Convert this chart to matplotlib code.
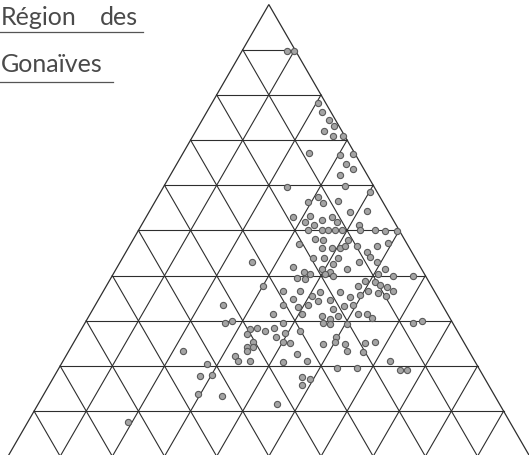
import matplotlib
matplotlib.use("Agg")
import matplotlib.pyplot as plt
import numpy as np

gridColor = "#2e2e2e"
dotFace = "#a4a4a4"
dotEdge = "#5a5a5a"
textColor = "#4a4a4a"

# sample compositions in percent: top corner share and right corner share
# (left corner share is the remainder to 100)
comp_top = [
    89.8, 89.8, 78.3, 76.3, 74.5, 73.0, 72.1, 70.8, 70.8, 67.2,
    66.6, 67.0, 64.8, 63.5, 62.2, 59.9, 59.7, 58.6, 57.5,
    56.2, 56.0, 56.4, 54.0, 54.2, 52.9, 53.1, 51.8, 52.4, 52.9,
    51.8, 51.3, 50.2, 50.2, 50.2, 50.2, 50.2, 51.3, 50.2, 50.0,
    49.8, 49.8, 48.0, 47.8, 46.9, 47.8, 46.0, 46.0, 46.0, 46.5,
    46.5, 45.3, 46.5, 47.3,
    44.0, 44.0, 43.8, 43.1, 44.2, 42.5, 41.8, 40.9, 40.3, 41.4,
    40.7, 41.4, 39.4, 39.2, 39.8, 40.3, 38.7, 38.5, 37.6, 42.9,
    36.5, 34.9, 36.5, 35.4, 36.3, 34.5, 36.3, 35.2, 35.8, 36.5,
    33.6, 33.0, 33.4, 34.3, 32.7, 33.2, 33.6, 37.6, 31.4, 31.6,
    31.0, 30.3, 31.0, 31.6, 31.4, 30.7, 29.6, 29.6, 29.2, 29.2,
    28.5, 27.7, 28.5, 26.5, 27.2, 25.4, 25.0, 25.2, 27.7, 26.5,
    25.2, 24.8, 25.0, 23.2, 23.0, 24.8,
    43.1, 41.4, 40.3, 40.0, 40.0, 38.0, 37.4, 36.5, 36.1, 35.4,
    29.6, 29.9, 25.4, 21.2, 19.5, 19.2, 19.2,
    33.6, 29.6, 29.9, 28.1, 27.0, 24.3, 24.3, 23.2, 22.1, 21.0,
    21.0, 23.2, 20.4, 17.7, 18.1, 13.9, 13.3, 7.5, 22.6, 21.0,
    20.8, 17.5, 17.0, 15.7, 19.5, 11.5,
]
comp_right = [
    8.5, 9.9, 20.2, 22.0, 24.2, 26.0, 24.6, 26.9, 28.8, 24.1,
    30.3, 32.6, 32.3, 34.4, 32.5, 34.6, 23.7, 40.0, 30.6,
    29.4, 32.3, 35.0, 38.5, 41.7, 28.2, 31.4, 31.0, 34.0, 35.7,
    37.1, 33.1, 32.4, 35.1, 36.2, 37.5, 38.9, 41.7, 42.3, 45.3,
    47.3, 49.6, 34.8, 36.4, 32.4, 41.2, 37.2, 39.1, 40.6, 41.4,
    43.7, 46.1, 47.5, 49.1,
    36.4, 38.5, 41.3, 45.8, 47.2, 41.1, 33.7, 36.2, 37.8, 39.5,
    41.3, 44.2, 35.7, 37.3, 42.4, 40.6, 49.0, 51.1, 30.1, 25.4,
    34.5, 37.1, 37.7, 40.5, 41.7, 44.4, 45.5, 47.9, 49.5, 50.8,
    35.9, 39.1, 40.8, 42.3, 45.9, 47.8, 49.3, 48.2, 35.1, 40.5,
    44.7, 46.5, 47.7, 51.2, 53.1, 54.5, 37.9, 45.5, 47.1, 50.3,
    33.4, 35.4, 36.8, 38.2, 39.5, 40.0, 41.5, 34.3, 42.1, 49.7,
    50.0, 52.2, 55.9, 53.3, 56.5, 47.9,
    49.1, 51.5, 50.8, 53.8, 57.6, 52.3, 53.9, 55.6, 52.9, 54.7,
    62.8, 64.4, 57.6, 62.6, 57.2, 65.5, 66.8,
    24.4, 26.8, 28.0, 32.4, 32.3, 33.6, 34.8, 34.2, 32.4, 33.6,
    35.9, 21.9, 27.9, 27.9, 30.0, 29.4, 34.4, 19.2, 44.1, 46.8,
    42.3, 47.6, 49.4, 48.6, 53.3, 45.9,
]

grid_steps = np.arange(10, 100, 10)


def to_xy(right, top):
    right = np.asarray(right, dtype=float)
    top = np.asarray(top, dtype=float)
    return right + top / 2.0, top * np.sqrt(3) / 2.0


fig = plt.figure(figsize=(5.29, 4.56), dpi=100)
ax = fig.add_axes([0, 0, 1, 1])
ax.set_xlim(-1.533, 99.87)
ax.set_ylim(0.249, 87.66)
ax.axis("off")

# outline of the diagram
ox, oy = to_xy([0, 100, 0, 0], [0, 0, 100, 0])
ax.plot(ox, oy, color=gridColor, lw=0.9, solid_joinstyle="miter")

# 10 % grid in all three directions
for t in grid_steps:
    for r, tp in (([0, 100 - t], [t, t]),          # constant top share
                  ([100 - t, 0], [0, 100 - t]),    # constant left share
                  ([t, t], [0, 100 - t])):         # constant right share
        gx, gy = to_xy(r, tp)
        ax.plot(gx, gy, color=gridColor, lw=0.8)

px, py = to_xy(comp_right, comp_top)
ax.scatter(px, py, s=20, facecolor=dotFace, edgecolor=dotEdge,
           linewidths=0.8, zorder=3)

# title block in the corner
fig.text(0.002, 1 - 25 / 456, "Région", fontsize=18, color=textColor,
         family="Lato", va="baseline", ha="left")
fig.text(100 / 529, 1 - 25 / 456, "des", fontsize=18, color=textColor,
         family="Lato", va="baseline", ha="left")
fig.text(0.002, 1 - 72 / 456, "Gonaïves", fontsize=18, color=textColor,
         family="Lato", va="baseline", ha="left")
fig.add_artist(plt.Line2D([0, 143 / 529], [1 - 33 / 456] * 2,
                          transform=fig.transFigure, color="#555555", lw=0.9))
fig.add_artist(plt.Line2D([0, 113 / 529], [1 - 83 / 456] * 2,
                          transform=fig.transFigure, color="#555555", lw=0.9))

fig.savefig("out.png", dpi=100, facecolor="white")
